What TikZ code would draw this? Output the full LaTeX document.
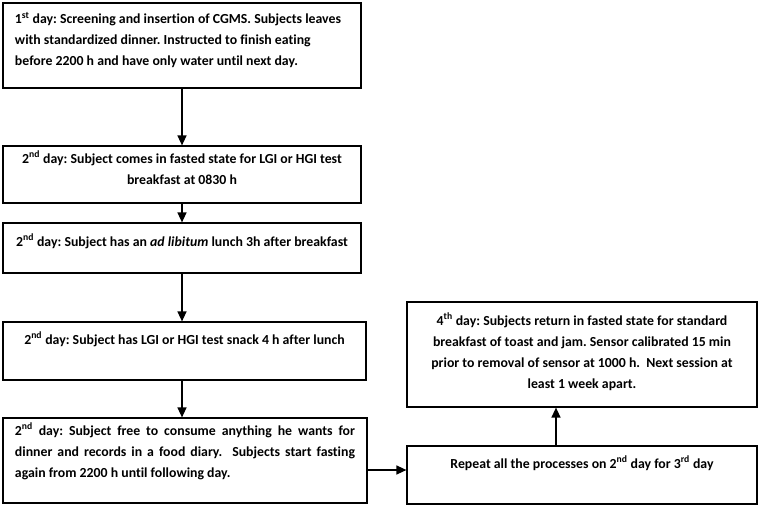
\documentclass[tikz,border=0pt]{standalone}
\usepackage{fontspec}
\setmainfont{Carlito}[Ligatures=NoCommon]
\usetikzlibrary{arrows.meta, positioning}
\tikzset{stage/.style={draw, line width=1.2pt, inner xsep=12pt, inner ysep=0pt, font=\bfseries\fontsize{13.8}{21}\selectfont},
         flow/.style={-{Triangle[width=9pt,length=10pt]}, line width=1.4pt},
        }
\newcommand{\stagetext}[4][10]{\parbox[t][#3pt][t]{#2pt}{\frenchspacing\vspace*{#1pt}#4}}

\begin{document}
\begin{tikzpicture}[x=1pt,y=-1pt]
        \useasboundingbox (0,0) rectangle (761,507);

        \node[stage](d1)at(182,45.5){\stagetext[9]{334}{85}{\raggedright 1\textsuperscript{st} day: Screening and insertion of CGMS. Subjects leaves with standardized dinner. Instructed to finish eating before 2200 h and have only water until next day.}};
        \node[stage](d2)at(182,174.5){\stagetext[5]{334}{57}{\centering 2\textsuperscript{nd} day: Subject comes in fasted state for LGI or HGI test breakfast at 0830 h}};
        \node[stage](d3)at(182,248){\stagetext[11]{334}{50}{\centering 2\textsuperscript{nd} day: Subject has an \textit{ad libitum} lunch 3h after breakfast}};
        \node[stage](d4)at(184.5,351){\stagetext{339}{58}{\centering 2\textsuperscript{nd} day: Subject has LGI or HGI test snack 4 h after lunch}};
        \node[stage](d5)at(185,460.5){\stagetext[5]{340}{85}{2\textsuperscript{nd} day: Subject free to consume anything he wants for\linebreak dinner and records in a food diary.\ \ Subjects start fasting\linebreak again from 2200 h until following day.}};

        \node[stage](rep)at(582,475){\stagetext{326}{58}{\centering Repeat all the processes on 2\textsuperscript{nd} day for 3\textsuperscript{rd} day}};
        \node[stage](d7)at(582,354.5){\stagetext[11]{326}{105}{\centering 4\textsuperscript{th} day: Subjects return in fasted state for standard breakfast of toast and jam. Sensor calibrated 15 min prior to removal of sensor at 1000 h.\ \ Next session at least 1 week apart.}};

        \draw[flow](d1.south)--(d2.north);
        \draw[flow](d2.south)--(d3.north);
        \draw[flow](d3.south)--(d3.south |- d4.north);
        \draw[flow](d3.south |- d4.south)--(d3.south |- d5.north);
        \draw[flow]([yshift=-9.5pt]d5.east)--([yshift=-9.5pt]d5.east -| rep.west);
        \draw[flow]([xshift=-26pt]rep.north)--([xshift=-26pt]rep.north |- d7.south);
\end{tikzpicture}
\end{document}
